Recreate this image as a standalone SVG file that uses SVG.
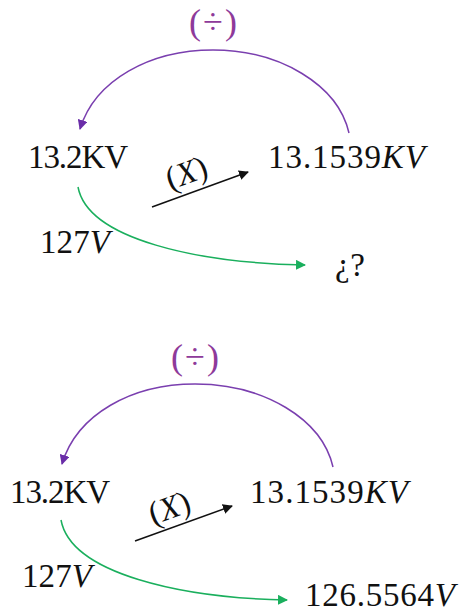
<svg xmlns="http://www.w3.org/2000/svg" width="461" height="612" viewBox="0 0 461 612">
<defs>
<style>
.t{font-family:"Liberation Serif","DejaVu Serif",serif;font-size:33px;fill:#111}
.i{font-style:italic}
.op{font-family:"Liberation Serif","DejaVu Serif",serif;font-size:36px;fill:#8E3A9A}
.pu{fill:none;stroke:#7A3FAF;stroke-width:1.5}
.gr{fill:none;stroke:#1AAF5D;stroke-width:1.5}
.bk{fill:none;stroke:#111;stroke-width:1.5}
</style>
<marker id="mp" viewBox="0 0 10 10" refX="9" refY="5" markerWidth="10" markerHeight="10" markerUnits="userSpaceOnUse" orient="auto"><path d="M0,0L10,5L0,10z" fill="#6A2DA8"/></marker>
<marker id="mg" viewBox="0 0 10 10" refX="9" refY="5" markerWidth="10" markerHeight="10" markerUnits="userSpaceOnUse" orient="auto"><path d="M0,0L10,5L0,10z" fill="#1AAF5D"/></marker>
<marker id="mb" viewBox="0 0 10 10" refX="9" refY="5" markerWidth="10" markerHeight="10" markerUnits="userSpaceOnUse" orient="auto"><path d="M0,0L10,5L0,10z" fill="#111"/></marker>
</defs>
<rect width="461" height="612" fill="#fff"/>
<g id="connectors">
<path class="pu" d="M349,133 C338,85 280,50 213,50 C150,50 95,80 80,129" marker-end="url(#mp)"/>
<path class="gr" d="M78,187 C88,240 200,263 305,265" marker-end="url(#mg)"/>
<path class="bk" d="M152,207 L248,172" marker-end="url(#mb)"/>
<path class="pu" d="M333,467 C322,419 264,384 195,384 C132,384 77,414 62,464" marker-end="url(#mp)"/>
<path class="gr" d="M61,520 C71,574 182,598 287,600" marker-end="url(#mg)"/>
<path class="bk" d="M135,541 L232,506" marker-end="url(#mb)"/>
</g>
<g id="top">
<g id="div1"><text class="op" x="213" y="34" text-anchor="middle" textLength="48">(÷)</text></g>
<g id="n1a"><text class="t" x="28" y="168" textLength="100">13.2KV</text></g>
<g id="n1b"><text class="t" x="268" y="168" textLength="157">13.1539<tspan class="i">KV</tspan></text></g>
<g id="x1"><text class="t" transform="translate(190,183) rotate(-20)" text-anchor="middle" font-size="34">(<tspan class="i">X</tspan>)</text></g>
<g id="v1"><text class="t" x="40" y="253" textLength="70">127<tspan class="i">V</tspan></text></g>
<g id="q1"><text class="t" x="335" y="276" textLength="30">¿?</text></g>
</g>
<g id="bottom">
<g id="div2"><text class="op" x="195" y="369" text-anchor="middle" textLength="48">(÷)</text></g>
<g id="n2a"><text class="t" x="10" y="503" textLength="100">13.2KV</text></g>
<g id="n2b"><text class="t" x="250" y="503" textLength="158">13.1539<tspan class="i">KV</tspan></text></g>
<g id="x2"><text class="t" transform="translate(173,518) rotate(-20)" text-anchor="middle" font-size="34">(<tspan class="i">X</tspan>)</text></g>
<g id="v2"><text class="t" x="22" y="587" textLength="70">127<tspan class="i">V</tspan></text></g>
<g id="r2"><text class="t" x="305" y="606" textLength="150">126.5564<tspan class="i">V</tspan></text></g>
</g>
</svg>
